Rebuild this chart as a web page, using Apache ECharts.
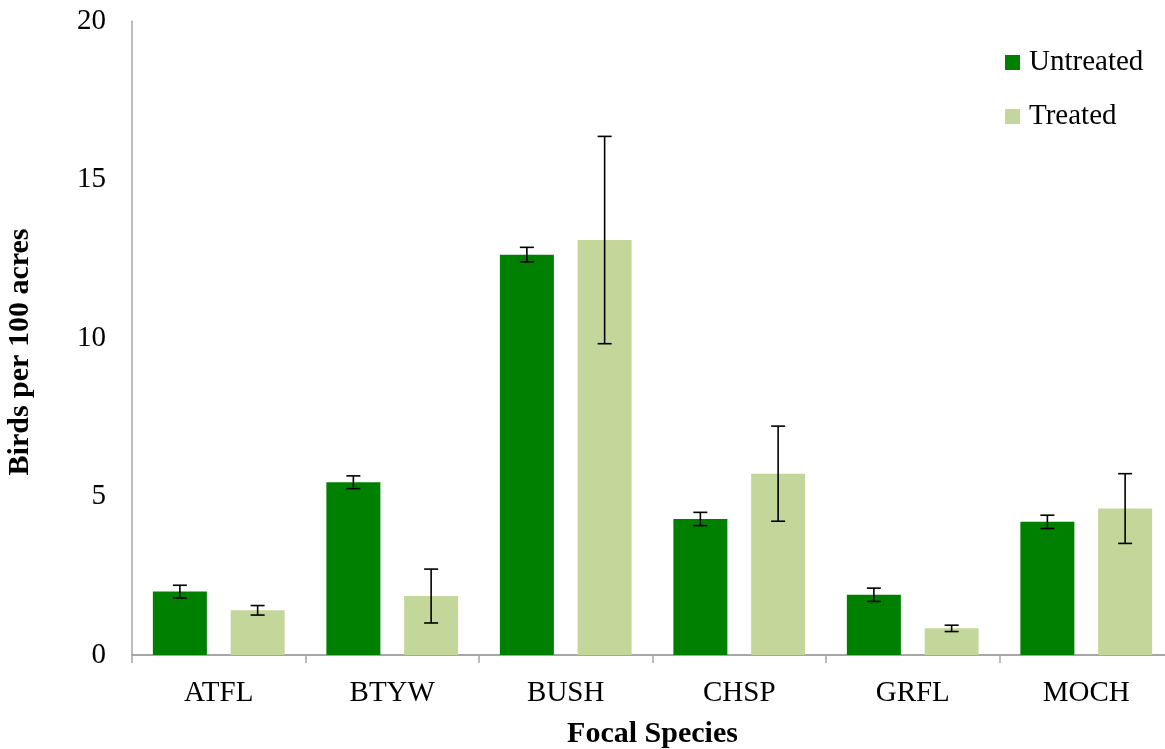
<!DOCTYPE html>
<html>
<head>
<meta charset="utf-8">
<title>Focal Species Density</title>
<script src="https://cdn.jsdelivr.net/npm/echarts@6/dist/echarts.min.js"></script>
<style>
  html, body { margin: 0; padding: 0; background: #ffffff; }
  #chart { width: 1165px; height: 749px; }
</style>
</head>
<body>
<div id="chart"></div>
<script>
// Species codes on the category axis
const categories = ['ATFL', 'BTYW', 'BUSH', 'CHSP', 'GRFL', 'MOCH'];
// Mean birds per 100 acres
const untreated = [2.0, 5.45, 12.63, 4.29, 1.9, 4.2];
const treated = [1.41, 1.86, 13.09, 5.72, 0.84, 4.62];
// Standard error (± half-length of each error bar)
const untreatedErr = [0.2, 0.2, 0.23, 0.21, 0.21, 0.21];
const treatedErr = [0.15, 0.85, 3.27, 1.5, 0.1, 1.1];
// Value-axis ticks
const yTicks = [0, 5, 10, 15, 20];

const FONT = '"Liberation Serif", "Times New Roman", serif';
const GREEN = '#008000';
const LIGHT = '#c4d79b';
const BAR_W = 54;
const BAR_GAP = 0.44;
const OFFSET = BAR_W * (1 + BAR_GAP) / 2;

function errorSeries(name, means, errs, dir) {
  return {
    type: 'custom',
    name: name + ' SE',
    z: 10,
    silent: true,
    data: means.map((m, i) => [i, m - errs[i], m + errs[i]]),
    renderItem: function (params, api) {
      const i = api.value(0);
      const lo = api.coord([i, api.value(1)]);
      const hi = api.coord([i, api.value(2)]);
      const x = lo[0] + dir * OFFSET;
      const cap = 7;
      const style = { stroke: '#000', lineWidth: 1.6 };
      return {
        type: 'group',
        children: [
          { type: 'line', shape: { x1: x, y1: lo[1], x2: x, y2: hi[1] }, style: style },
          { type: 'line', shape: { x1: x - cap, y1: lo[1], x2: x + cap, y2: lo[1] }, style: style },
          { type: 'line', shape: { x1: x - cap, y1: hi[1], x2: x + cap, y2: hi[1] }, style: style }
        ]
      };
    }
  };
}

const chart = echarts.init(document.getElementById('chart'), null, { renderer: 'canvas' });
chart.setOption({
  animation: false,
  backgroundColor: '#ffffff',
  textStyle: { fontFamily: FONT },
  grid: { left: 132, top: 21, width: 1041, height: 634, containLabel: false, outerBoundsMode: 'none' },
  legend: {
    orient: 'vertical',
    left: 1000,
    top: 42,
    itemWidth: 15,
    itemHeight: 15,
    itemGap: 23,
    icon: 'rect',
    data: ['Untreated', 'Treated'],
    textStyle: { fontFamily: FONT, fontSize: 29, color: '#000', lineHeight: 31, padding: [0, 0, 0, 4] }
  },
  xAxis: {
    type: 'category',
    data: categories,
    name: 'Focal Species',
    nameLocation: 'middle',
    nameGap: 64,
    nameTextStyle: { fontFamily: FONT, fontSize: 30, fontWeight: 'bold', color: '#000' },
    axisLine: { lineStyle: { color: '#a6a6a6', width: 2 } },
    axisTick: { show: true, length: 8, lineStyle: { color: '#a6a6a6', width: 1.5 } },
    axisLabel: { fontFamily: FONT, fontSize: 29, color: '#000', margin: 24 }
  },
  yAxis: {
    type: 'value',
    min: yTicks[0],
    max: yTicks[yTicks.length - 1],
    interval: yTicks[1] - yTicks[0],
    name: 'Birds per 100 acres',
    nameLocation: 'middle',
    nameGap: 97,
    nameTextStyle: { fontFamily: FONT, fontSize: 30, fontWeight: 'bold', color: '#000', padding: [0, 28, 0, 0] },
    axisLine: { show: true, lineStyle: { color: '#a6a6a6', width: 1.5 } },
    axisTick: { show: false },
    splitLine: { show: false },
    axisLabel: { fontFamily: FONT, fontSize: 29, color: '#000', margin: 26 }
  },
  series: [
    {
      name: 'Untreated', type: 'bar', data: untreated,
      barWidth: BAR_W, barGap: (BAR_GAP * 100) + '%',
      itemStyle: { color: GREEN }
    },
    {
      name: 'Treated', type: 'bar', data: treated,
      barWidth: BAR_W, barGap: (BAR_GAP * 100) + '%',
      itemStyle: { color: LIGHT }
    },
    errorSeries('Untreated', untreated, untreatedErr, -1),
    errorSeries('Treated', treated, treatedErr, 1)
  ]
});
</script>
</body>
</html>
